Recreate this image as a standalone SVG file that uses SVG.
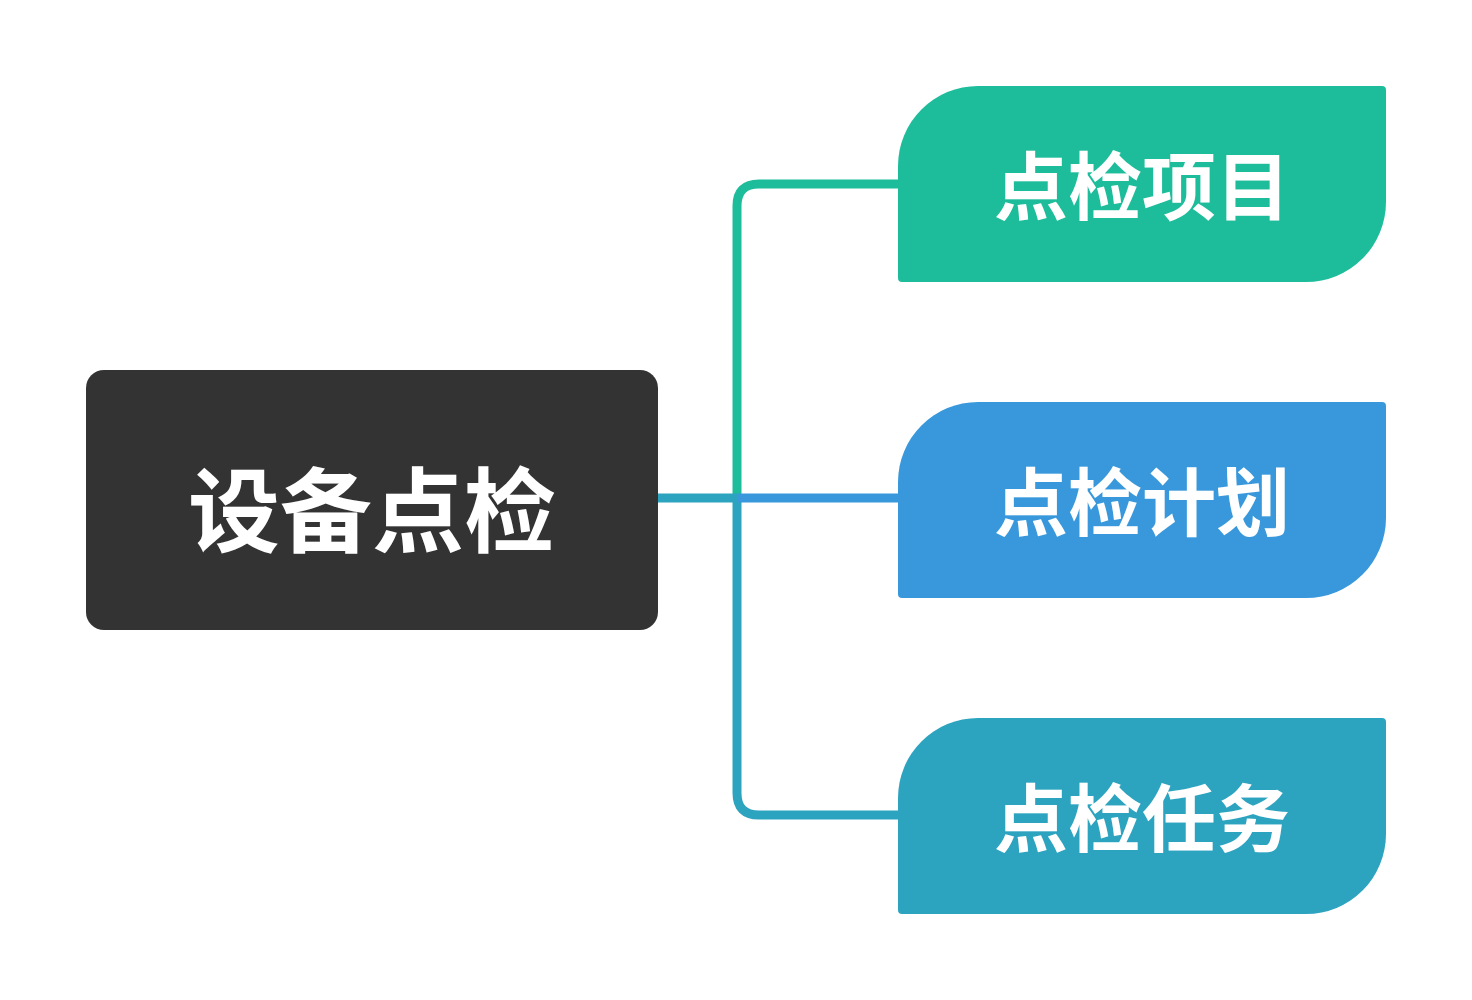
<svg xmlns="http://www.w3.org/2000/svg" width="1472" height="1000" viewBox="0 0 1472 1000">
<style>
.t{font-family:"Noto Sans CJK SC","Noto Sans",sans-serif;font-weight:bold;fill:#fff;text-anchor:middle}
.c{fill:none;stroke-width:9;stroke-linejoin:round}
</style>
<rect width="1472" height="1000" fill="#fff"/>
<g id="connectors">
<path class="c" stroke="#1DBD9B" d="M898,184 H759 Q737,184 737,206 V498"/>
<path class="c" stroke="#2CA3BF" d="M737,498 V793 Q737,815 759,815 H898"/>
<path class="c" stroke="#2CA3BF" d="M658,498 H737"/>
<path class="c" stroke="#3898DB" d="M737,498 H898"/>
</g>
<g id="root">
<rect x="86" y="370" width="572" height="260" rx="18" fill="#333333"/>
<text class="t" x="372" y="545" font-size="92">设备点检</text>
</g>
<g id="n1">
<path fill="#1DBD9B" d="M978,86 H1382 Q1386,86 1386,90 V202 A80,80 0 0 1 1306,282 H902 Q898,282 898,278 V166 A80,80 0 0 1 978,86 Z"/>
<text class="t" x="1142" y="214" font-size="74">点检项目</text>
</g>
<g id="n2">
<path fill="#3898DB" d="M978,402 H1382 Q1386,402 1386,406 V518 A80,80 0 0 1 1306,598 H902 Q898,598 898,594 V482 A80,80 0 0 1 978,402 Z"/>
<text class="t" x="1142" y="530" font-size="74">点检计划</text>
</g>
<g id="n3">
<path fill="#2CA3BF" d="M978,718 H1382 Q1386,718 1386,722 V834 A80,80 0 0 1 1306,914 H902 Q898,914 898,910 V798 A80,80 0 0 1 978,718 Z"/>
<text class="t" x="1142" y="846" font-size="74">点检任务</text>
</g>
</svg>
